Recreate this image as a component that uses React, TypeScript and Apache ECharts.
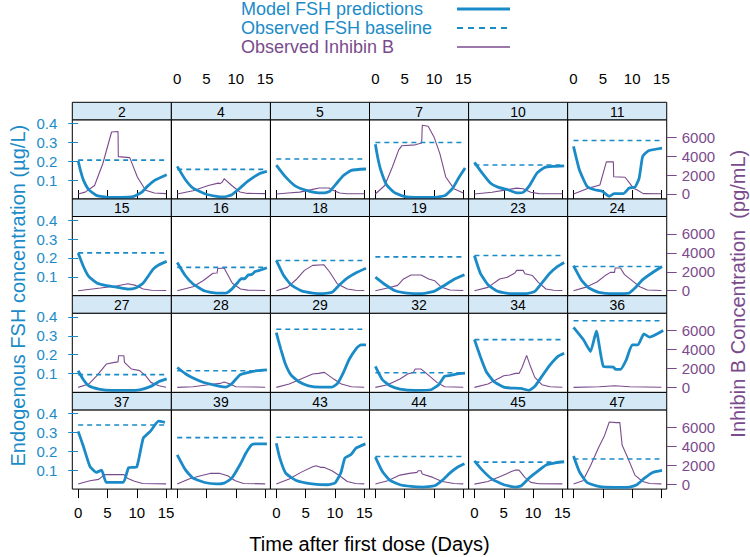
import React, { useEffect, useRef } from "react";
import * as echarts from "echarts";

// ---------------- data ----------------
const PANEL_IDS = ["2", "4", "5", "7", "10", "11", "15", "16", "18", "19", "23", "24", "27", "28", "29", "32", "34", "36", "37", "39", "43", "44", "45", "47"];

// observed FSH baseline (µg/L), one per panel
const FSH_BASELINE = [0.206, 0.157, 0.212, 0.30, 0.18, 0.31, 0.227, 0.15, 0.187, 0.206, 0.213, 0.155, 0.094, 0.115, 0.335, 0.104, 0.28, 0.38, 0.34, 0.273, 0.275, 0.173, 0.143, 0.16];
const BASELINE_DAYS = [0, 15.3];

// model FSH predictions [day, µg/L]
const FSH_2 = [[0, 0.203], [0.4, 0.15], [0.9, 0.10], [1.8, 0.05], [3.2, 0.018], [5.2, 0.009], [7.2, 0.009], [9.5, 0.014], [10.8, 0.035], [11.8, 0.067], [13.1, 0.10], [15.1, 0.129]];
const FSH_4 = [[0, 0.173], [1.4, 0.102], [2.7, 0.058], [4.7, 0.028], [6.7, 0.014], [8, 0.011], [9.3, 0.023], [10.7, 0.058], [12, 0.093], [14, 0.134], [15.3, 0.146]];
const FSH_5 = [[0, 0.18], [1.5, 0.12], [3.2, 0.07], [4.8, 0.049], [6.5, 0.035], [8.1, 0.032], [9.1, 0.041], [10.1, 0.076], [11.4, 0.123], [12.8, 0.152], [15.3, 0.159]];
const FSH_7 = [[0, 0.29], [0.4, 0.22], [0.9, 0.155], [1.9, 0.076], [3.2, 0.035], [4.9, 0.014], [6.9, 0.009], [10.2, 0.009], [11.9, 0.018], [13.2, 0.058], [14.2, 0.111], [15.3, 0.164]];
const FSH_10 = [[0, 0.194], [1.3, 0.138], [2.7, 0.085], [4, 0.063], [5.7, 0.049], [7.3, 0.032], [8.3, 0.035], [9.3, 0.067], [10.7, 0.138], [12, 0.168], [13.6, 0.173], [15.3, 0.176]];
const FSH_11 = [[0, 0.279], [1, 0.155], [2.3, 0.067], [3.6, 0.049], [4.9, 0.041], [6.1, 0.014], [6.9, 0.028], [8.5, 0.028], [9.5, 0.058], [10.5, 0.063], [11.2, 0.111], [11.8, 0.226], [12.8, 0.256], [15.1, 0.27]];
const FSH_15 = [[0, 0.226], [0.9, 0.155], [1.8, 0.102], [3.2, 0.067], [4.8, 0.053], [6.5, 0.046], [8.5, 0.035], [9.8, 0.041], [11.1, 0.067], [12.8, 0.141], [13.8, 0.164], [15.1, 0.182]];
const FSH_16 = [[0, 0.176], [1.3, 0.11], [2.7, 0.062], [4.7, 0.025], [6.7, 0.014], [8.3, 0.014], [9.3, 0.035], [10.3, 0.069], [10.9, 0.09], [11.5, 0.09], [12.1, 0.11], [12.7, 0.112], [13.3, 0.128], [14.1, 0.135], [15.3, 0.148]];
const FSH_18 = [[0, 0.187], [1.2, 0.11], [2.5, 0.058], [4.2, 0.027], [6.2, 0.014], [8.1, 0.011], [9.5, 0.018], [10.8, 0.058], [12.1, 0.093], [13.7, 0.123], [15.3, 0.146]];
const FSH_19 = [[0, 0.099], [1.7, 0.058], [3.4, 0.026], [5.4, 0.014], [8, 0.011], [10, 0.023], [11.7, 0.053], [13.3, 0.085], [15.2, 0.111]];
const FSH_23 = [[0, 0.212], [1, 0.12], [2.3, 0.058], [4, 0.023], [6.3, 0.011], [8.9, 0.011], [10.3, 0.023], [11.5, 0.067], [12.9, 0.12], [14.2, 0.155], [15.3, 0.176]];
const FSH_24 = [[0, 0.159], [1.3, 0.085], [2.6, 0.041], [4.3, 0.018], [6.9, 0.011], [9.5, 0.014], [10.5, 0.041], [11.8, 0.085], [13.5, 0.123], [15.1, 0.155]];
const FSH_27 = [[0, 0.115], [0.9, 0.067], [1.8, 0.035], [3.5, 0.018], [5.8, 0.011], [8.5, 0.011], [10.5, 0.014], [12.4, 0.032], [13.8, 0.058], [15.1, 0.072]];
const FSH_28 = [[0, 0.132], [1.4, 0.099], [2.7, 0.076], [4.3, 0.055], [6, 0.041], [7.3, 0.032], [8.3, 0.028], [9.3, 0.046], [10.7, 0.093], [12, 0.105], [13.6, 0.115], [15.3, 0.12]];
const FSH_29 = [[0, 0.317], [0.4, 0.27], [0.8, 0.226], [1.5, 0.155], [2.5, 0.093], [3.8, 0.058], [5.5, 0.035], [7.5, 0.028], [9.5, 0.028], [10.4, 0.046], [11.4, 0.102], [12.4, 0.173], [13.7, 0.235], [14.4, 0.252], [15.3, 0.252]];
const FSH_32 = [[0, 0.138], [1.2, 0.067], [2.5, 0.035], [4.2, 0.018], [6.8, 0.011], [9.5, 0.014], [10.8, 0.041], [11.8, 0.085], [12.8, 0.09], [13.8, 0.097], [15.3, 0.102]];
const FSH_34 = [[0, 0.28], [1, 0.19], [2, 0.111], [3.3, 0.058], [5, 0.028], [6.3, 0.023], [7.9, 0.021], [9.3, 0.011], [10.3, 0.032], [11.5, 0.085], [12.9, 0.146], [14.2, 0.19], [15.3, 0.208]];
const FSH_36 = [[0, 0.345], [1.7, 0.279], [2.9, 0.217], [3.9, 0.325], [5.1, 0.138], [6.8, 0.134], [7.2, 0.122], [8, 0.122], [9, 0.173], [10, 0.252], [11, 0.252], [12, 0.31], [13, 0.293], [15.3, 0.328]];
const FSH_37 = [[0, 0.306], [0.9, 0.226], [2, 0.121], [3.1, 0.089], [4, 0.1], [4.8, 0.036], [7.7, 0.036], [8.6, 0.113], [10, 0.118], [11.1, 0.27], [12.3, 0.306], [13.7, 0.36], [14.8, 0.354]];
const FSH_39 = [[0, 0.182], [1.4, 0.102], [2.7, 0.058], [4.7, 0.035], [6.7, 0.028], [8, 0.032], [9.3, 0.058], [10.7, 0.129], [11.7, 0.19], [12.7, 0.235], [13.4, 0.24], [15.3, 0.24]];
const FSH_43 = [[0, 0.243], [0.6, 0.164], [1.6, 0.085], [3.4, 0.046], [6.1, 0.028], [8.7, 0.023], [10, 0.032], [11, 0.085], [11.7, 0.164], [12.7, 0.182], [13.6, 0.217], [15.2, 0.24]];
const FSH_44 = [[0, 0.17], [1.2, 0.093], [2.5, 0.046], [4.2, 0.023], [6.1, 0.014], [8.1, 0.011], [10.1, 0.018], [11.4, 0.046], [12.7, 0.085], [14, 0.116], [15.2, 0.134]];
const FSH_45 = [[0, 0.15], [1.3, 0.102], [3, 0.053], [5, 0.023], [7, 0.011], [8, 0.018], [9.3, 0.058], [10.7, 0.093], [12.3, 0.129], [14, 0.141], [15.3, 0.145]];
const FSH_47 = [[0, 0.176], [1, 0.093], [2.3, 0.035], [4.3, 0.014], [6.9, 0.009], [9.5, 0.011], [10.8, 0.023], [12.1, 0.058], [13.5, 0.088], [15.1, 0.099]];

// observed Inhibin B [day, pg/mL]
const INH_2 = [[0, 0], [1.2, 200], [2.8, 900], [4.2, 3200], [5.7, 6560], [6.8, 6620], [6.85, 3950], [8.8, 3850], [10.1, 1800], [11.5, 390], [13, 100], [15, 35]];
const INH_4 = [[0, 0], [2.7, 350], [5.3, 900], [7, 1150], [7.3, 1100], [7.7, 1270], [8, 1620], [9.3, 900], [10.7, 210], [12, 60], [15, 35]];
const INH_5 = [[0, 0], [2, 100], [4, 200], [6, 460], [7.3, 640], [9, 640], [9.5, 460], [10.8, 100], [12, 30], [15, 20]];
const INH_7 = [[0, 0], [1.6, 900], [2.9, 2860], [4, 4700], [4.5, 5100], [6.8, 5200], [7.9, 5400], [8, 7270], [9, 7170], [10, 6040], [11, 4270], [12, 1800], [13.4, 565], [15, 100]];
const INH_10 = [[0, 0], [3, 180], [5.7, 460], [7.2, 620], [8.3, 560], [9.6, 180], [11, 40], [15, 20]];
const INH_11 = [[0, 0], [2.3, 565], [4.5, 950], [5.6, 3400], [6.8, 3400], [6.85, 1830], [8.8, 1770], [9.6, 1130], [10.2, 600], [10.8, 450], [11.9, 40], [15, 20]];
const INH_15 = [[0, 0], [3.8, 280], [6.5, 490], [8.5, 740], [9.8, 560], [11.1, 180], [12.5, 50], [15, 20]];
const INH_16 = [[0, 0], [2.7, 420], [4.4, 1050], [6.1, 1840], [6.8, 1870], [6.9, 2350], [8, 2400], [9.4, 780], [10.8, 180], [12, 60], [15, 20]];
const INH_18 = [[0, 0], [1.9, 350], [3.5, 1240], [4.8, 2150], [6.2, 2680], [8.1, 2750], [9.1, 1980], [10.4, 740], [12.1, 180], [13.5, 50], [15, 20]];
const INH_19 = [[0, 0], [2.1, 280], [3.8, 560], [4.8, 1240], [6.1, 1660], [7.8, 1660], [9.1, 1240], [10.1, 1060], [11.2, 400], [12.7, 70], [15, 20]];
const INH_23 = [[0, 0], [2.3, 350], [4.3, 1240], [5.6, 1420], [6.9, 1870], [7.2, 2150], [8.3, 2150], [8.6, 1800], [9.9, 1600], [10.9, 880], [12.2, 180], [13.5, 50], [15, 20]];
const INH_24 = [[0, 0], [2, 350], [4, 920], [5.4, 1600], [6.3, 1940], [7, 1940], [7.1, 2400], [8, 2400], [8.7, 1700], [10, 1060], [11.3, 420], [12.6, 70], [15, 20]];
const INH_27 = [[0, 0], [1.8, 350], [3.2, 1240], [4.8, 2470], [6.2, 2650], [6.8, 2700], [6.9, 3350], [7.8, 3350], [7.9, 2650], [9.1, 1940], [10.5, 1770], [11.5, 1240], [12.4, 530], [13.8, 180], [15, 20]];
const INH_28 = [[0, 0], [2.7, 70], [5.3, 280], [7.3, 420], [8, 560], [9, 350], [10, 70], [15, 20]];
const INH_29 = [[0, 0], [2.2, 350], [4.2, 880], [6.2, 1410], [7.2, 1480], [8.2, 1590], [9.8, 880], [11.1, 350], [12.8, 70], [15, 20]];
const INH_32 = [[0, 0], [2.1, 280], [4.2, 880], [5.5, 1410], [6.5, 1590], [6.8, 1940], [7.8, 1940], [8.5, 1590], [9.5, 1060], [10.5, 530], [11.8, 70], [15, 20]];
const INH_34 = [[0, 0], [2.3, 350], [5, 1240], [6, 1310], [7, 1480], [7.6, 1480], [8.1, 2080], [8.9, 3390], [9.6, 2150], [10.3, 1060], [11.5, 280], [12.9, 70], [15, 20]];
const INH_36 = [[0, 0], [4.4, 70], [7, 180], [9.6, 70], [15, 20]];
const INH_37 = [[0, 0], [2, 350], [3.5, 500], [4.5, 1000], [7.8, 1000], [8.4, 620], [9.6, 300], [11, 70], [15, 20]];
const INH_39 = [[0, 0], [2, 530], [4, 880], [5.6, 1130], [7.3, 1130], [8.6, 880], [9.9, 350], [11.3, 70], [15, 20]];
const INH_43 = [[0, 0], [2.2, 530], [4.2, 1240], [6.2, 1840], [6.8, 1940], [7.5, 1770], [8.1, 1770], [9.5, 1410], [10.8, 880], [12.1, 280], [13.5, 70], [15, 20]];
const INH_44 = [[0, 0], [2.1, 350], [4.2, 950], [5.8, 1130], [7.1, 1240], [7.3, 1410], [7.8, 1410], [8, 1060], [9.8, 710], [11.4, 280], [13.4, 70], [15, 20]];
const INH_45 = [[0, 0], [2.3, 280], [4.3, 780], [5.6, 1130], [6.2, 1310], [7, 1480], [7.6, 1480], [8.6, 710], [9.6, 180], [11, 40], [15, 20]];
const INH_47 = [[0, 0], [1.6, 350], [2.9, 1940], [4.3, 3900], [5.3, 5150], [6.1, 6570], [7.3, 6500], [7.9, 6500], [8.3, 4100], [9.2, 2860], [10.5, 920], [11.8, 280], [13, 60], [15, 20]];

const FSH_CURVES = [FSH_2, FSH_4, FSH_5, FSH_7, FSH_10, FSH_11, FSH_15, FSH_16, FSH_18, FSH_19, FSH_23, FSH_24, FSH_27, FSH_28, FSH_29, FSH_32, FSH_34, FSH_36, FSH_37, FSH_39, FSH_43, FSH_44, FSH_45, FSH_47];
const INH_CURVES = [INH_2, INH_4, INH_5, INH_7, INH_10, INH_11, INH_15, INH_16, INH_18, INH_19, INH_23, INH_24, INH_27, INH_28, INH_29, INH_32, INH_34, INH_36, INH_37, INH_39, INH_43, INH_44, INH_45, INH_47];

const X_TICKS = [0, 5, 10, 15];
const FSH_TICKS = [0.1, 0.2, 0.3, 0.4];
const INH_TICKS = [0, 2000, 4000, 6000];

const LEGEND_LABELS = ["Model FSH predictions", "Observed FSH baseline", "Observed Inhibin B"];
const X_TITLE = "Time after first dose (Days)";
const Y_LEFT_TITLE = "Endogenous FSH concentration (µg/L)";
const Y_RIGHT_TITLE = "Inhibin B Concentration  (pg/mL)";

// ---------------- layout / style ----------------
const BLUE = "#1b8bc8";
const PURPLE = "#7a4b8c";
const STRIP_BG = "#d5e8f6";
const FONT = "Liberation Sans, Arial, Helvetica, sans-serif";

const NCOL = 6;
const GRID_LEFT = 72.3;
const GRID_W = 99.07;
const STRIP_TOP = 102.3;
const ROW_PITCH = 96.7;
const STRIP_H = 17.5;
const BODY_H = ROW_PITCH - STRIP_H;
const TICK_FONT = 15;

const X_MIN = -1.0;
const X_MAX = 15.9;
const FSH_MIN = 0;
const FSH_MAX = 0.42;
const INH_MIN = -530;
const INH_MAX = 7850;

function buildOption() {
  const grid: any[] = [];
  const xAxis: any[] = [];
  const yAxis: any[] = [];
  const series: any[] = [];
  const graphic: any[] = [];
  const nRows = Math.ceil(PANEL_IDS.length / NCOL);

  PANEL_IDS.forEach((id, i) => {
    const r = Math.floor(i / NCOL);
    const c = i % NCOL;
    const left = GRID_LEFT + c * GRID_W;
    const stripTop = STRIP_TOP + r * ROW_PITCH;
    const top = stripTop + STRIP_H;
    grid.push({ left, top, width: GRID_W, height: BODY_H, show: true, borderColor: "#000", borderWidth: 1, backgroundColor: "transparent" });

    const isTop = r === 0;
    const isBottom = r === nRows - 1;
    const showXLabel = (isTop && c % 2 === 1) || (isBottom && c % 2 === 0);
    xAxis.push({
      type: "value", gridIndex: i, min: X_MIN, max: X_MAX,
      position: isTop ? "top" : "bottom",
      offset: isTop ? STRIP_H : 0,
      axisLine: { show: false }, splitLine: { show: false },
      axisTick: { show: isTop || isBottom, customValues: X_TICKS, length: 9, lineStyle: { color: "#000", width: 1 } },
      axisLabel: { show: showXLabel, customValues: X_TICKS, color: "#000", fontSize: TICK_FONT, fontFamily: FONT, margin: 16 },
    });
    yAxis.push({
      type: "value", gridIndex: i, min: FSH_MIN, max: FSH_MAX, position: "left",
      axisLine: { show: false }, splitLine: { show: false },
      axisTick: { show: c === 0, customValues: FSH_TICKS, length: 10, lineStyle: { color: BLUE, width: 1 } },
      axisLabel: { show: c === 0, customValues: FSH_TICKS, color: BLUE, fontSize: TICK_FONT, fontFamily: FONT, margin: 15, formatter: (v: number) => v.toFixed(1) },
    });
    yAxis.push({
      type: "value", gridIndex: i, min: INH_MIN, max: INH_MAX, position: "right",
      axisLine: { show: false }, splitLine: { show: false },
      axisTick: { show: c === NCOL - 1, customValues: INH_TICKS, length: 10, lineStyle: { color: PURPLE, width: 1 } },
      axisLabel: { show: c === NCOL - 1, customValues: INH_TICKS, color: PURPLE, fontSize: TICK_FONT, fontFamily: FONT, margin: 15, formatter: (v: number) => String(Math.round(v)) },
    });

    series.push({
      type: "line", name: LEGEND_LABELS[2], xAxisIndex: i, yAxisIndex: 2 * i + 1, data: INH_CURVES[i],
      symbol: "none", lineStyle: { color: PURPLE, width: 1.1 }, itemStyle: { color: PURPLE }, z: 2,
    });
    series.push({
      type: "line", name: LEGEND_LABELS[1], xAxisIndex: i, yAxisIndex: 2 * i,
      data: BASELINE_DAYS.map((d) => [d, FSH_BASELINE[i]]),
      symbol: "none", lineStyle: { color: BLUE, width: 1.6, type: [5, 4] }, itemStyle: { color: BLUE }, z: 3,
    });
    series.push({
      type: "line", name: LEGEND_LABELS[0], xAxisIndex: i, yAxisIndex: 2 * i, data: FSH_CURVES[i],
      symbol: "none", smooth: 0.15, lineStyle: { color: BLUE, width: 2.8 }, itemStyle: { color: BLUE }, z: 4,
    });

    // strip
    graphic.push({
      type: "rect", shape: { x: left, y: stripTop, width: GRID_W, height: STRIP_H },
      style: { fill: STRIP_BG, stroke: "#000", lineWidth: 1 }, z: 10,
    });
    graphic.push({
      type: "text", x: left + GRID_W / 2, y: stripTop + STRIP_H / 2 + 0.5,
      style: { text: id, fill: "#000", font: `14px ${FONT}`, textAlign: "center", textVerticalAlign: "middle" }, z: 11,
    });
  });

  // legend (key)
  const legendY = [9, 28, 47];
  const legendColors = [BLUE, BLUE, PURPLE];
  LEGEND_LABELS.forEach((lab, k) => {
    graphic.push({
      type: "text", x: 241, y: legendY[k],
      style: { text: lab, fill: legendColors[k], font: `18px ${FONT}`, textAlign: "left", textVerticalAlign: "middle" }, z: 11,
    });
  });
  graphic.push({ type: "line", shape: { x1: 457, y1: legendY[0], x2: 510, y2: legendY[0] }, style: { stroke: BLUE, lineWidth: 3 }, z: 11 });
  graphic.push({ type: "line", shape: { x1: 457, y1: legendY[1], x2: 510, y2: legendY[1] }, style: { stroke: BLUE, lineWidth: 1.8, lineDash: [6, 5] }, z: 11 });
  graphic.push({ type: "line", shape: { x1: 457, y1: legendY[2], x2: 510, y2: legendY[2] }, style: { stroke: PURPLE, lineWidth: 1.3 }, z: 11 });

  // axis titles
  const midY = STRIP_TOP + (nRows * ROW_PITCH) / 2;
  const midX = GRID_LEFT + (NCOL * GRID_W) / 2;
  graphic.push({
    type: "text", x: 18, y: midY, rotation: Math.PI / 2,
    style: { text: Y_LEFT_TITLE, fill: BLUE, font: `20px ${FONT}`, textAlign: "center", textVerticalAlign: "middle" }, z: 11,
  });
  graphic.push({
    type: "text", x: 738, y: midY - 2, rotation: Math.PI / 2,
    style: { text: Y_RIGHT_TITLE, fill: PURPLE, font: `20px ${FONT}`, textAlign: "center", textVerticalAlign: "middle" }, z: 11,
  });
  graphic.push({
    type: "text", x: midX, y: 544,
    style: { text: X_TITLE, fill: "#000", font: `20px ${FONT}`, textAlign: "center", textVerticalAlign: "middle" }, z: 11,
  });

  return { animation: false, backgroundColor: "#fff", grid, xAxis, yAxis, series, graphic };
}

export default function App() {
  const ref = useRef<HTMLDivElement>(null);
  useEffect(() => {
    if (!ref.current) return;
    const chart = echarts.init(ref.current, undefined, { renderer: "svg" });
    chart.setOption(buildOption());
    return () => chart.dispose();
  }, []);
  return <div ref={ref} style={{ position: "absolute", left: 0, top: 0, width: 750, height: 557 }} />;
}
